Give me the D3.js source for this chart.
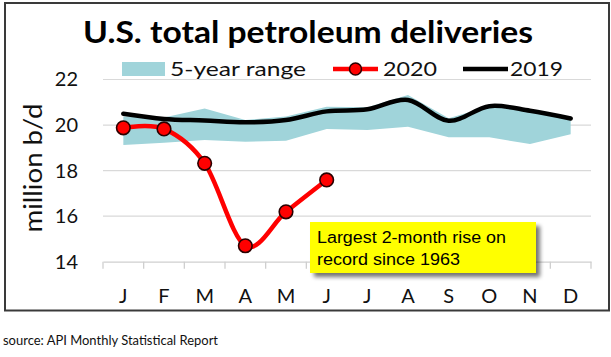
<!DOCTYPE html>
<html><head><meta charset="utf-8">
<script src="https://cdn.jsdelivr.net/npm/d3@7"></script>
<style>body{margin:0;background:#fff}svg{display:block}</style>
</head><body>
<svg id="c" width="611" height="357"></svg>
<script>
const months = ["J","F","M","A","M","J","J","A","S","O","N","D"];
const rangeLow  = [19.12, 19.22, 19.34, 19.27, 19.31, 19.83, 19.78, 19.93, 19.46, 19.46, 19.17, 19.60];
const rangeHigh = [20.38, 20.33, 20.73, 20.22, 20.38, 20.80, 20.78, 21.32, 20.30, 20.83, 20.60, 20.37];
const v2019 = [20.50, 20.27, 20.20, 20.12, 20.22, 20.60, 20.69, 21.10, 20.19, 20.83, 20.63, 20.29];
const v2020 = [19.88, 19.83, 18.32, 14.70, 16.19, 17.59];
const yTicks = [14, 16, 18, 20, 22];
const legendLabels = ["5-year range", "2020", "2019"];
const titleText = "U.S. total petroleum deliveries";
const yTitle = "million b/d";
const noteLines = ["Largest 2-month rise on", "record since 1963"];
const sourceText = "source:  API Monthly Statistical Report";

const svg = d3.select("#c");
const FONT = "Lato, 'Open Sans', sans-serif";

// shadow filter
const defs = svg.append("defs");
const f = defs.append("filter").attr("id","sh").attr("x","-10%").attr("y","-20%").attr("width","130%").attr("height","160%");
f.append("feGaussianBlur").attr("in","SourceAlpha").attr("stdDeviation",2).attr("result","b");
f.append("feOffset").attr("in","b").attr("dx",4).attr("dy",4).attr("result","o");
f.append("feComponentTransfer").attr("in","o").attr("result","o2").append("feFuncA").attr("type","linear").attr("slope",0.55);
const m = f.append("feMerge"); m.append("feMergeNode").attr("in","o2"); m.append("feMergeNode").attr("in","SourceGraphic");

// outer border
svg.append("rect").attr("x",5).attr("y",3).attr("width",604).attr("height",307.5)
  .attr("fill","#fff").attr("stroke","#3a3a3a").attr("stroke-width",2);

const x = d3.scaleBand().domain(d3.range(12)).range([103, 591]);
const y = d3.scaleLinear().domain([14, 22]).range([261.7, 79.5]);
const cx = i => x(i) + x.bandwidth()/2;

// gridlines
svg.append("g").selectAll("line").data(yTicks.filter(t => t > 14)).join("line")
  .attr("x1", 103).attr("x2", 591).attr("y1", d => y(d)).attr("y2", d => y(d))
  .attr("stroke", "#d9d9d9").attr("stroke-width", 1.2);

// x axis
const xAxis = svg.append("g").attr("transform", `translate(0,${y(14)})`)
  .call(d3.axisBottom(x).tickFormat(i => months[i]).tickSize(0).tickPadding(27));
xAxis.select(".domain").attr("stroke", "#cfcfcf").attr("stroke-width", 1.3);
xAxis.selectAll("text").attr("font-family", FONT).attr("font-size", 20).attr("fill", "#111");
svg.append("g").selectAll("line").data(d3.range(13)).join("line")
  .attr("x1", i => 103 + i*x.step()).attr("x2", i => 103 + i*x.step())
  .attr("y1", y(14)).attr("y2", y(14) + 7).attr("stroke", "#cfcfcf").attr("stroke-width", 1.3);

// y axis labels
const yAxis = svg.append("g").attr("transform", "translate(78,0)")
  .call(d3.axisLeft(y).tickValues(yTicks).tickSize(0).tickPadding(0));
yAxis.select(".domain").remove();
yAxis.selectAll("text").attr("font-family", FONT).attr("font-size", 20).attr("fill", "#111");

// y title
svg.append("text").attr("transform", "translate(42,168) rotate(-90)")
  .attr("text-anchor", "middle").attr("font-family", FONT).attr("font-size", 25)
  .attr("textLength", 129).attr("lengthAdjust", "spacingAndGlyphs")
  .attr("fill", "#111").text(yTitle);

// band
const area = d3.area().x((d, i) => cx(i)).y0((d, i) => y(rangeLow[i])).y1(d => y(d));
svg.append("path").datum(rangeHigh).attr("d", area).attr("fill", "#a0d4da");

// 2019 line
const line = d3.line().x((d, i) => cx(i)).y(d => y(d)).curve(d3.curveCardinal.tension(0));
svg.append("path").datum(v2019).attr("d", line).attr("fill", "none")
  .attr("stroke", "#000").attr("stroke-width", 4.5).attr("stroke-linecap","round");

// 2020 line
svg.append("path").datum(v2020).attr("d", line).attr("fill", "none")
  .attr("stroke", "#ff0000").attr("stroke-width", 4.5).attr("stroke-linecap","round");
svg.append("g").selectAll("circle").data(v2020).join("circle")
  .attr("cx", (d, i) => cx(i)).attr("cy", d => y(d)).attr("r", 6.8)
  .attr("fill", "#ff0000").attr("stroke", "#2a0000").attr("stroke-width", 1.6);

// title
svg.append("text").attr("x", 83).attr("y", 43).attr("font-family", FONT)
  .attr("font-weight", "bold").attr("font-size", 31).attr("fill", "#000")
  .attr("textLength", 450).attr("lengthAdjust", "spacingAndGlyphs").text(titleText);

// legend
const lg = svg.append("g");
lg.append("rect").attr("x", 122).attr("y", 62).attr("width", 43).attr("height", 14).attr("fill", "#a0d4da");
lg.append("text").attr("x", 170).attr("y", 76).attr("font-family", FONT).attr("font-size", 20)
  .attr("textLength", 136).attr("lengthAdjust", "spacingAndGlyphs").attr("fill", "#111").text(legendLabels[0]);
lg.append("line").attr("x1", 333).attr("x2", 378).attr("y1", 69).attr("y2", 69).attr("stroke", "#ff0000").attr("stroke-width", 4.5);
lg.append("circle").attr("cx", 355.5).attr("cy", 69).attr("r", 6).attr("fill", "#ff0000").attr("stroke", "#2a0000").attr("stroke-width", 1.5);
lg.append("text").attr("x", 383).attr("y", 76).attr("font-family", FONT).attr("font-size", 20)
  .attr("textLength", 54).attr("lengthAdjust", "spacingAndGlyphs").attr("fill", "#111").text(legendLabels[1]);
lg.append("line").attr("x1", 463).attr("x2", 508).attr("y1", 69).attr("y2", 69).attr("stroke", "#000").attr("stroke-width", 4.5);
lg.append("text").attr("x", 510).attr("y", 76).attr("font-family", FONT).attr("font-size", 20)
  .attr("textLength", 53).attr("lengthAdjust", "spacingAndGlyphs").attr("fill", "#111").text(legendLabels[2]);

// annotation
const ann = svg.append("g");
ann.append("rect").attr("x", 310).attr("y", 222).attr("width", 226).attr("height", 51)
  .attr("fill", "#ffff00").attr("filter", "url(#sh)");
const noteW = [189, 143];
ann.selectAll("text").data(noteLines).join("text")
  .attr("x", 317).attr("y", (d, i) => 242.5 + i*22).attr("font-family", "'Liberation Sans', Arial, sans-serif")
  .attr("font-size", 16).attr("textLength", (d, i) => noteW[i]).attr("lengthAdjust", "spacingAndGlyphs")
  .attr("fill", "#000").text(d => d);

// source
svg.append("text").attr("x", 3).attr("y", 345).attr("font-family", FONT).attr("font-size", 13)
  .attr("textLength", 215).attr("lengthAdjust", "spacingAndGlyphs").attr("fill", "#111").text(sourceText);
</script>
</body></html>
